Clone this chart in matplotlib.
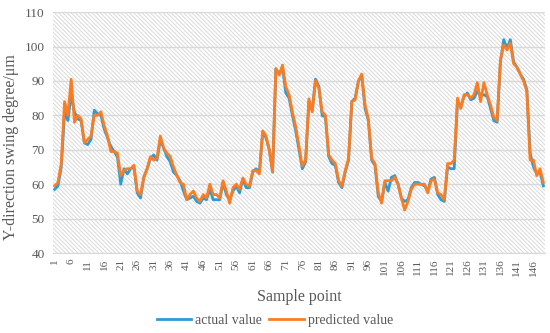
import matplotlib
matplotlib.use("Agg")
import matplotlib.pyplot as plt
from matplotlib.patches import Rectangle
import numpy as np

# valores (149 pontos)
predito = [59.5, 60.5, 66, 84, 80, 90.5, 78, 80, 79, 72,
           73, 74, 80, 80, 81, 77, 74, 69.5, 69.5, 69,
           62.5, 64, 64.5, 64.5, 65.5, 58, 57, 62, 64.5, 68,
           67, 67.5, 74, 70.5, 69, 68, 65, 62.5, 60.5, 60,
           55.5, 57, 58, 56, 55, 57, 56, 60, 57, 57,
           56, 61, 58, 54.5, 59, 60, 58.5, 61.8, 60, 59.5,
           64, 64, 63, 75.5, 74, 70, 63.6, 93.6, 91.7, 94.6,
           88.3, 86, 81, 76.7, 71, 65.3, 67, 84.8, 81, 90,
           88, 81, 80, 68.5, 67, 66, 61, 59.5, 64, 67.5,
           84, 84.5, 90, 92, 83, 79, 67.5, 66, 57.5, 54.5,
           61, 61, 61, 62, 60, 56, 52.5, 55, 58.5, 60,
           60, 60, 60, 57.5, 61, 61.5, 57.5, 57, 55.5, 66,
           66, 67, 85, 82, 86, 86, 85, 86, 89.5, 84,
           89.5, 86, 83, 79.5, 78.5, 96, 100.5, 99, 101, 95,
           94, 92, 90, 87, 67, 67, 62.5, 64.5, 60.5]

real = [58.5, 59.5, 65, 81, 78.5, 86, 81, 79, 78.5, 72,
        71.5, 73, 81.5, 80.5, 80, 76, 73.5, 71, 69.5, 68,
        60, 64.5, 63, 64.5, 65, 57.5, 56, 62, 64.5, 67.5,
        68.5, 67, 73, 70.5, 68, 66.5, 63.5, 62.5, 61, 58,
        55.5, 56, 56.5, 55, 54.5, 56, 55.5, 58.5, 55.5, 55.5,
        55.5, 60.5, 57, 55.5, 58, 59.5, 57.5, 61.5, 59, 59,
        63.5, 64.5, 63.5, 75, 73.5, 70, 63.5, 93.5, 92, 94,
        86.5, 85, 80, 75.5, 70, 64.5, 66.5, 84, 81.5, 90.5,
        88.5, 80, 79.5, 68, 66, 65.5, 60.5, 59, 63.5, 67,
        84, 85, 90, 91.5, 82, 78.5, 67, 65.5, 56.5, 55,
        60.5, 58, 62, 62.5, 60, 56, 55, 55.5, 59, 60.5,
        60.5, 60, 59.5, 58, 61.5, 62, 57, 55.5, 55, 65,
        64.5, 64.5, 84, 82.5, 85.5, 86.5, 84.5, 85, 87, 86,
        86, 85.5, 82, 78.5, 78, 95.5, 102, 99.5, 102, 95.5,
        94, 92, 90.5, 87.5, 69, 65, 63, 63.5, 59.5]

amostras = np.arange(1, len(real) + 1)
rotulos = amostras[::5]

plt.rcParams['font.family'] = ['Liberation Serif', 'DejaVu Serif']
plt.rcParams['hatch.color'] = '#d9d9d9'
plt.rcParams['hatch.linewidth'] = 0.7

cinza = '#595959'
fig = plt.figure(figsize=(5.5, 3.33), dpi=100)
ax = fig.add_axes([0.0964, 0.240, 0.8945, 0.7237])

# fundo hachurado
ax.add_patch(Rectangle((0, 0), 1, 1, transform=ax.transAxes, facecolor='white',
                       edgecolor='#d9d9d9', hatch='\\' * 8, linewidth=0, zorder=0))

ax.plot(amostras, real, color='#2e9bd6', linewidth=2.0, label='actual value', zorder=3)
ax.plot(amostras, predito, color='#fb7d23', linewidth=2.0, label='predicted value', zorder=4)

ax.set_xlim(0.5, len(real) + 0.5)
ax.set_ylim(40, 110)
ax.set_yticks(np.arange(40, 111, 10))
ax.set_xticks(rotulos)
ax.set_xticklabels([str(r) for r in rotulos], rotation=90, fontsize=8, color=cinza)
ax.tick_params(axis='y', labelsize=9.5, colors=cinza, length=0, pad=6)
ax.tick_params(axis='x', length=0, pad=4)
ax.grid(axis='y', color='#d9d9d9', linewidth=1.0, zorder=1)
ax.set_axisbelow(True)
for lado in ['top', 'right', 'left']:
    ax.spines[lado].set_visible(False)
ax.spines['bottom'].set_color('#d9d9d9')

ax.set_ylabel('Y-direction swing degree/μm', fontsize=11.5, color=cinza)
ax.yaxis.set_label_coords(-0.07, 0.44)
ax.set_xlabel('Sample point', fontsize=11.5, color=cinza, labelpad=10)

fig.legend(loc='lower center', bbox_to_anchor=(0.5, -0.02), ncol=2, frameon=False,
           fontsize=10, handlelength=2.5, handletextpad=0.3, columnspacing=0.5,
           labelcolor=cinza)

fig.savefig('out.png', dpi=100)
